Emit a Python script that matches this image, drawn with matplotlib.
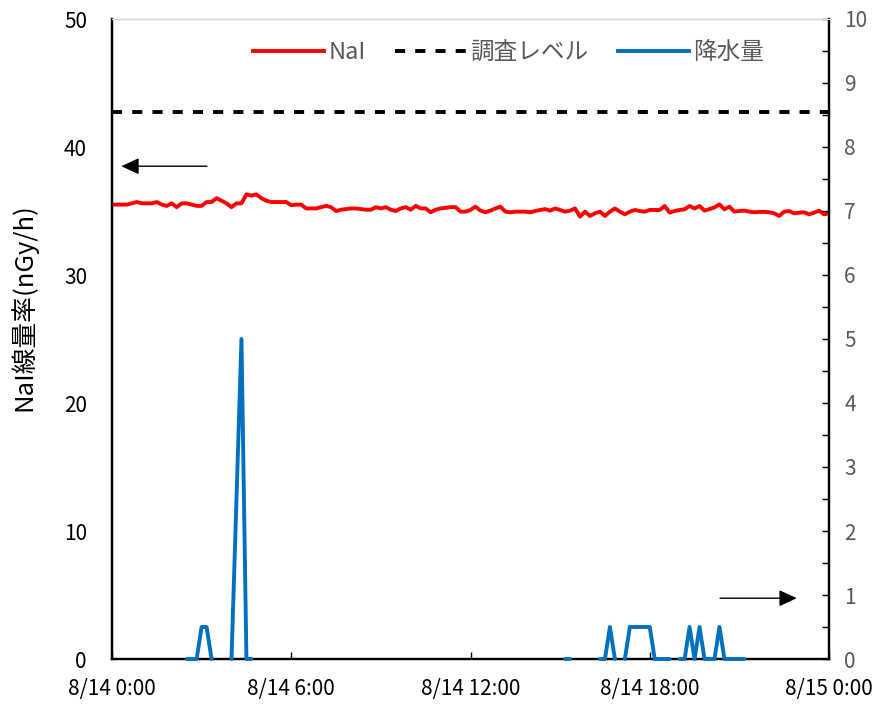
import numpy as np
import pandas as pd
import matplotlib
matplotlib.use("Agg")
import matplotlib.pyplot as plt
import matplotlib.dates as mdates
from matplotlib.ticker import MultipleLocator, FuncFormatter

plt.rcParams['font.family'] = ['Noto Sans CJK JP', 'DejaVu Sans']

# 10-minute NaI dose rate, 8/14 0:00 .. 8/15 0:00 (nGy/h)
nai = [35.5, 35.5, 35.5, 35.5, 35.6, 35.7, 35.6, 35.6, 35.6, 35.7,
       35.5, 35.4, 35.6, 35.3, 35.6, 35.6, 35.5, 35.4, 35.4, 35.7,
       35.7, 36.0, 35.8, 35.6, 35.3, 35.6, 35.6, 36.3, 36.2, 36.3,
       36.0, 35.8, 35.7, 35.7, 35.7, 35.7, 35.45, 35.5, 35.5, 35.2,
       35.2, 35.2, 35.3, 35.4, 35.3, 35.0, 35.1, 35.15, 35.2, 35.2,
       35.15, 35.1, 35.1, 35.3, 35.2, 35.3, 35.1, 35.0, 35.2, 35.3,
       35.1, 35.4, 35.2, 35.2, 34.9, 35.1, 35.2, 35.25, 35.3, 35.3,
       34.95, 34.95, 35.08, 35.34, 35.03, 34.9, 35.03, 35.2, 35.34, 34.95,
       34.9, 34.95, 34.95, 34.95, 34.9, 35.0, 35.08, 35.15, 35.03, 35.2,
       35.08, 34.95, 35.03, 35.2, 34.56, 34.95, 34.61, 34.82, 34.95, 34.61,
       34.95, 35.2, 34.95, 34.74, 34.95, 35.08, 35.0, 34.95, 35.08, 35.08,
       35.08, 35.39, 34.87, 35.0, 35.08, 35.13, 35.39, 35.2, 35.39, 35.03,
       35.15, 35.28, 35.52, 35.13, 35.34, 34.95, 35.0, 35.03, 34.95, 34.9,
       34.93, 34.93, 34.9, 34.82, 34.61, 34.95, 35.0, 34.82, 34.87, 34.9,
       34.74, 34.87, 35.03, 34.74, 34.82]

survey_level = 42.7

# rainfall (mm / 10 min); times not listed are missing
rain_times = ["02:30", "02:40", "02:50", "03:00", "03:10", "03:20",
              "04:00", "04:10", "04:20", "04:30", "04:40",
              "15:10", "15:20",
              "16:20", "16:30", "16:40", "16:50",
              "17:10", "17:20", "17:30", "17:40", "17:50", "18:00",
              "18:10", "18:20", "18:30", "18:40",
              "19:00", "19:10", "19:20", "19:30", "19:40", "19:50",
              "20:00", "20:10", "20:20", "20:30", "20:40", "20:50",
              "21:00", "21:10"]
rain_mm = [0, 0, 0, 0.5, 0.5, 0,
           0, 2.5, 5, 0, 0,
           0, 0,
           0, 0, 0.5, 0,
           0, 0.5, 0.5, 0.5, 0.5, 0.5,
           0, 0, 0, 0,
           0, 0, 0.5, 0, 0.5, 0,
           0, 0, 0.5, 0, 0, 0,
           0, 0]

times = pd.date_range("2024-08-14 00:00", periods=len(nai), freq="10min")
rain = pd.Series(np.nan, index=times)
for t, v in zip(rain_times, rain_mm):
    rain[pd.Timestamp("2024-08-14 " + t)] = v

fig = plt.figure(figsize=(8.77, 7.04), dpi=100)
ax = fig.add_axes([112 / 877, 45 / 704, 717 / 877, 640 / 704])
ax2 = ax.twinx()

ax.plot(times, nai, color='#FF0000', lw=2.8, solid_joinstyle='round')
ax.axhline(survey_level, color='black', lw=2.8, dashes=(2.6, 2.6))
ax2.plot(times, rain.values, color='#0070C0', lw=2.8, zorder=5, clip_on=False,
         solid_capstyle='round', solid_joinstyle='round')

ax.set_xlim(times[0], times[-1])
ax.set_ylim(0, 50)
ax2.set_ylim(0, 10)

ax.xaxis.set_major_locator(mdates.HourLocator(byhour=[0, 6, 12, 18]))
ax.xaxis.set_major_formatter(FuncFormatter(
    lambda x, pos: (lambda d: f"{d.month}/{d.day} {d.hour}:{d.minute:02d}")(mdates.num2date(x))))
ax.yaxis.set_major_locator(MultipleLocator(10))
ax2.yaxis.set_major_locator(MultipleLocator(1))
ax2.yaxis.set_minor_locator(MultipleLocator(0.5))

ax.tick_params(axis='x', direction='in', length=5, width=1, labelsize=15, pad=14)
ax.tick_params(axis='y', length=0, labelsize=15, pad=18)
ax2.tick_params(axis='y', which='both', direction='in', length=5, width=1,
                labelsize=15, labelcolor='#595959', pad=11)

for a in (ax, ax2):
    for s in ('left', 'bottom', 'right'):
        a.spines[s].set_linewidth(1.6)
        a.spines[s].set_color('black')
    a.spines['top'].set_color('#d9d9d9')
    a.spines['top'].set_linewidth(1)

fig.text(24 / 877, 1 - 307 / 704, "NaI線量率(nGy/h)", rotation=90,
         ha='center', va='center', fontsize=18.5)

arrow = dict(arrowstyle='-|>,head_length=0.54,head_width=0.25', color='black',
             lw=1, mutation_scale=20, shrinkA=0, shrinkB=0)
ax2.annotate('', xy=(0.013, 0.770), xytext=(0.1325, 0.770),
             xycoords='axes fraction', arrowprops=arrow)
ax2.annotate('', xy=(0.955, 0.095), xytext=(0.848, 0.095),
             xycoords='axes fraction', arrowprops=arrow)

handles = [plt.Line2D([], [], color='#FF0000', lw=2.8),
           plt.Line2D([], [], color='black', lw=2.8, dashes=(2.6, 2.6)),
           plt.Line2D([], [], color='#0070C0', lw=2.8)]
leg = ax2.legend(handles, ["NaI", "調査レベル", "降水量"], loc='center',
                 bbox_to_anchor=(0.553, 0.948), ncol=3, frameon=False,
                 fontsize=17, handlelength=3.0, handletextpad=0.18,
                 columnspacing=1.25)
for txt in leg.get_texts():
    txt.set_color('#595959')

fig.savefig("out.png", dpi=100)
